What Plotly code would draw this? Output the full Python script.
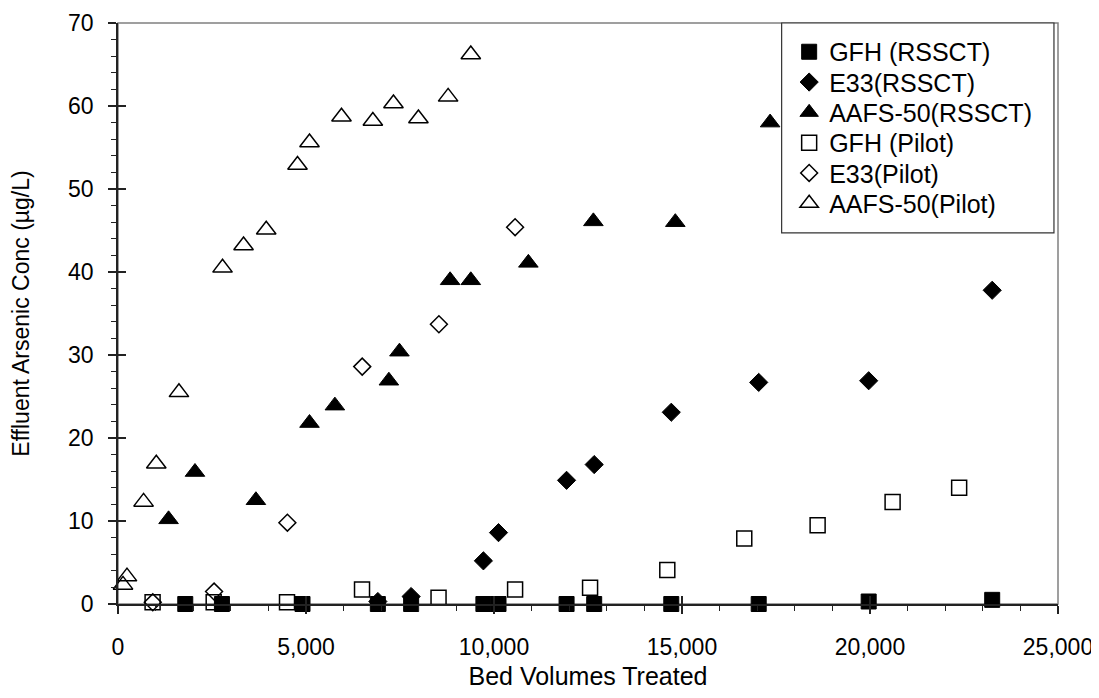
import plotly.graph_objects as go

# ---- data ----
gfh_rssct_x = [1789, 2764, 4907, 6911, 7796, 9718, 10120, 11930, 12665, 14715, 17040, 19965, 23250]
gfh_rssct_y = [0, 0, 0, 0, 0, 0, 0, 0, 0, 0, 0, 0.3, 0.5]

e33_rssct_x = [6911, 7796, 9718, 10120, 11930, 12665, 14715, 17040, 19965, 23250]
e33_rssct_y = [0.3, 0.9, 5.2, 8.6, 14.9, 16.8, 23.1, 26.7, 26.9, 37.8]

aafs_rssct_x = [1345, 2047, 3668, 5093, 5768, 7204, 7485, 8833, 9383, 10914, 12643, 14822, 17343]
aafs_rssct_y = [10.2, 15.9, 12.5, 21.8, 23.9, 26.9, 30.4, 39.0, 39.0, 41.1, 46.1, 46.0, 58.0]

gfh_pilot_x = [920, 2545, 4495, 6490, 8525, 10561, 12555, 14609, 16656, 18607, 20601, 22371]
gfh_pilot_y = [0.2, 0.2, 0.2, 1.75, 0.75, 1.75, 1.95, 4.1, 7.9, 9.5, 12.3, 14.0]

e33_pilot_x = [925, 2555, 4505, 6495, 8535, 10561]
e33_pilot_y = [0.2, 1.5, 9.8, 28.6, 33.7, 45.4]

aafs_pilot_x = [133, 239, 680, 1018, 1621, 2780, 3339, 3942, 4774, 5093, 5944, 6778, 7326, 7990, 8780, 9383]
aafs_pilot_y = [2.3, 3.3, 12.3, 16.9, 25.5, 40.5, 43.2, 45.1, 52.9, 55.6, 58.7, 58.2, 60.3, 58.5, 61.1, 66.2]

series_names = ["GFH (RSSCT)", "E33(RSSCT)", "AAFS-50(RSSCT)",
                "GFH (Pilot)", "E33(Pilot)", "AAFS-50(Pilot)"]

x_ticks = [0, 5000, 10000, 15000, 20000, 25000]
y_ticks = [0, 10, 20, 30, 40, 50, 60, 70]

FONT = "Arial, Liberation Sans, sans-serif"
INK = "#000000"
AXIS = "#222222"

series = [
    (series_names[0], gfh_rssct_x, gfh_rssct_y, "square", 15),
    (series_names[1], e33_rssct_x, e33_rssct_y, "diamond", 14),
    (series_names[2], aafs_rssct_x, aafs_rssct_y, "triangle-up", 17),
    (series_names[3], gfh_pilot_x, gfh_pilot_y, "square-open", 15),
    (series_names[4], e33_pilot_x, e33_pilot_y, "diamond-open", 13),
    (series_names[5], aafs_pilot_x, aafs_pilot_y, "triangle-up-open", 17),
]

# one legend per entry so the row spacing can match the reference's tight legend
legend_keys = ["legend", "legend2", "legend3", "legend4", "legend5", "legend6"]
legend_rows_y = [0.9501, 0.8979, 0.8458, 0.7936, 0.7415, 0.6893]

fig = go.Figure()
for (name, xs, ys, sym, size), lkey in zip(series, legend_keys):
    is_open = sym.endswith("-open")
    fig.add_trace(go.Scatter(
        x=xs, y=ys, mode="markers", name=name, legend=lkey,
        marker=dict(symbol=sym, size=size, color=INK,
                    line=dict(color=INK, width=1.5 if is_open else 1)),
        cliponaxis=False,
    ))

# helper (empty) trace so the overlay axes that carry the inner half of the major ticks are drawn
fig.add_trace(go.Scatter(x=[], y=[], xaxis="x2", yaxis="y2", showlegend=False, hoverinfo="skip"))

tickfont = dict(family=FONT, size=23, color=INK)

legend_layout = {}
for lkey, ly in zip(legend_keys, legend_rows_y):
    legend_layout[lkey] = dict(
        x=0.714, y=ly, xanchor="left", yanchor="middle",
        bgcolor="rgba(0,0,0,0)", borderwidth=0,
        font=dict(family=FONT, size=25, color=INK),
        tracegroupgap=0, itemsizing="trace",
    )

# page has an 8px body margin, so the figure is made smaller to avoid scrollbars
fig.update_layout(
    template="none",
    width=1091, height=682,
    margin=dict(l=110, r=41, t=15, b=86, autoexpand=False),
    paper_bgcolor="white", plot_bgcolor="white",
    font=dict(family=FONT, size=23, color=INK),
    showlegend=True,
    xaxis=dict(
        range=[0, 25000], tickmode="array", tickvals=x_ticks,
        ticktext=[f"{v:,}" for v in x_ticks], automargin=False,
        ticks="outside", ticklen=8, tickwidth=1.5, tickcolor=AXIS,
        minor=dict(dtick=1000, tick0=0, ticks="outside", ticklen=5, tickwidth=1.2, tickcolor=AXIS, showgrid=False),
        showline=True, linecolor=AXIS, linewidth=1.5,
        showgrid=False, zeroline=False, tickfont=tickfont,
        ticklabelstandoff=14,
        title=dict(text="Bed Volumes Treated", font=dict(family=FONT, size=25, color=INK), standoff=24),
    ),
    yaxis=dict(
        range=[0, 70], tickmode="array", tickvals=y_ticks, automargin=False,
        ticks="outside", ticklen=8, tickwidth=1.5, tickcolor=AXIS,
        minor=dict(dtick=2, tick0=0, ticks="outside", ticklen=5, tickwidth=1.2, tickcolor=AXIS, showgrid=False),
        showline=True, linecolor=AXIS, linewidth=1.5,
        showgrid=False, zeroline=False, tickfont=tickfont,
        ticklabelstandoff=10,
        title=dict(text="Effluent Arsenic Conc (µg/L)", font=dict(family=FONT, size=23, color=INK), standoff=33),
    ),
    xaxis2=dict(
        overlaying="x", matches="x", anchor="y2", side="bottom", automargin=False,
        tickmode="array", tickvals=x_ticks, ticks="inside", ticklen=8, tickwidth=1.5, tickcolor=AXIS,
        showticklabels=False, showline=False, showgrid=False, zeroline=False,
    ),
    yaxis2=dict(
        overlaying="y", matches="y", anchor="x2", side="left", automargin=False,
        tickmode="array", tickvals=y_ticks, ticks="inside", ticklen=8, tickwidth=1.5, tickcolor=AXIS,
        showticklabels=False, showline=False, showgrid=False, zeroline=False,
    ),
    shapes=[
        # plot-area frame (grey)
        dict(type="rect", xref="paper", yref="paper", x0=0, x1=1, y0=0, y1=1,
             line=dict(color="#808080", width=1.5), fillcolor="rgba(0,0,0,0)", layer="below"),
        # legend box
        dict(type="rect", xref="paper", yref="paper", x0=0.706, x1=0.9957, y0=0.6386, y1=1.0,
             line=dict(color="#333333", width=1.2), fillcolor="white", layer="below"),
    ],
    **legend_layout,
)

fig.write_html("out.html")
